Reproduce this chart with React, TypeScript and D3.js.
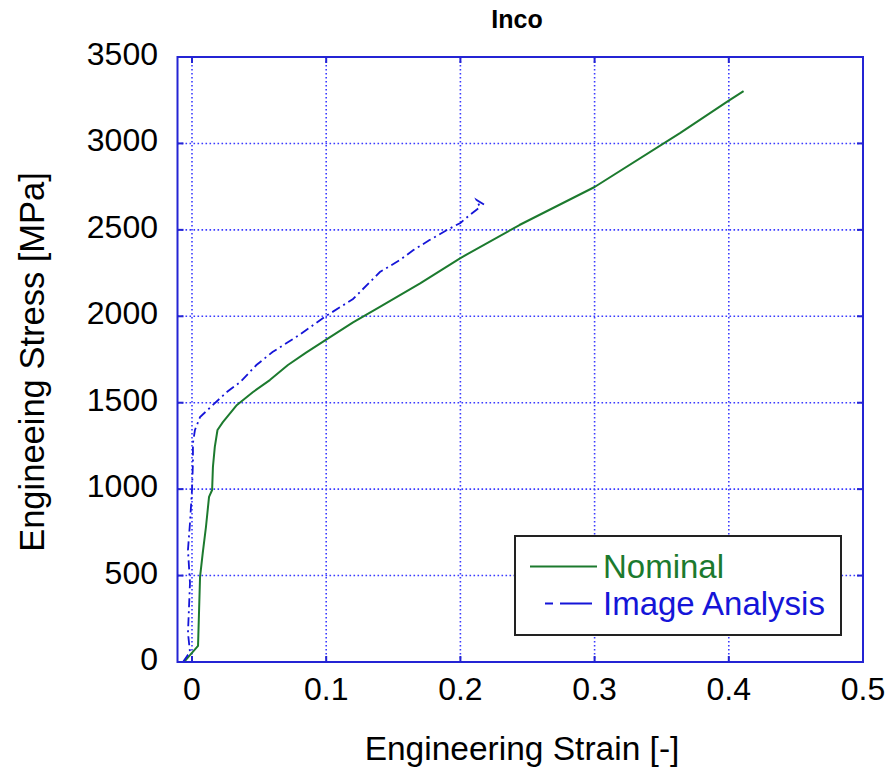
import React from "react";
import * as d3 from "d3";

const xTicks = [0, 0.1, 0.2, 0.3, 0.4, 0.5];
const yTicks = [0, 500, 1000, 1500, 2000, 2500, 3000, 3500];

const nominalStrain = [-0.006, -0.0015, 0.0045, 0.006, 0.008, 0.0104, 0.0127, 0.015, 0.0156, 0.017, 0.019, 0.023, 0.0335, 0.0455, 0.058, 0.0715, 0.085, 0.1, 0.12, 0.14, 0.17, 0.2, 0.244, 0.3, 0.3636, 0.3994, 0.411];
const nominalStress = [0, 40, 93, 492, 630, 781, 955, 995, 1128, 1244, 1342, 1388, 1487, 1562, 1631, 1718, 1790, 1865, 1965, 2054, 2190, 2337, 2528, 2748, 3060, 3245, 3303];

const imageStrain = [-0.0067, -0.0015, -0.003, -0.0015, -0.003, -0.0015, 0, 0.0007, 0.0007, 0.0022, 0.006, 0.0156, 0.026, 0.036, 0.048, 0.06, 0.08, 0.1, 0.12, 0.14, 0.155, 0.165, 0.177, 0.19, 0.2, 0.207, 0.2146, 0.212, 0.218];
const imageStress = [0, 58, 168, 457, 648, 804, 995, 1151, 1267, 1342, 1417, 1487, 1562, 1620, 1718, 1793, 1892, 2002, 2100, 2256, 2326, 2383, 2441, 2499, 2540, 2586, 2632, 2673, 2644];

const L = 177.5, R = 863, T = 57, B = 662;
const axisColor = "#2424d4";
const green = "#1c7a2e";
const blue = "#1515d8";
const font = "Liberation Sans, Arial, sans-serif";

export default function App() {
  const x = d3.scaleLinear().domain([-0.0108, 0.5]).range([L, R]);
  const y = d3.scaleLinear().domain([0, 3500]).range([B, T]);
  const line = d3.line<number>();
  const nomPts = nominalStrain.map((s, i) => [x(s), y(nominalStress[i])] as [number, number]);
  const imgPts = imageStrain.map((s, i) => [x(s), y(imageStress[i])] as [number, number]);
  return (
    <svg width={890} height={771} style={{ position: "absolute", left: 0, top: 0, background: "#fff" }}>
      <rect x={0} y={0} width={890} height={771} fill="#fff" />
      {xTicks.map((t) => (
        <line key={"gx" + t} x1={x(t)} x2={x(t)} y1={T} y2={B} stroke="#3a3aff" strokeWidth={1.6} strokeDasharray="1.6 2.4" />
      ))}
      {yTicks.map((t) => (
        <line key={"gy" + t} x1={L} x2={R} y1={y(t)} y2={y(t)} stroke="#3a3aff" strokeWidth={1.6} strokeDasharray="1.6 2.4" />
      ))}
      <path d={line(nomPts) || ""} fill="none" stroke={green} strokeWidth={2} strokeLinejoin="round" />
      <path d={line(imgPts) || ""} fill="none" stroke={blue} strokeWidth={1.8} strokeDasharray="9 4 2 4" />
      <rect x={L} y={T} width={R - L} height={B - T} fill="none" stroke={axisColor} strokeWidth={2} />
      {xTicks.map((t) => (
        <g key={"tx" + t}>
          <line x1={x(t)} x2={x(t)} y1={B} y2={B - 6} stroke={axisColor} strokeWidth={2} />
          <line x1={x(t)} x2={x(t)} y1={T} y2={T + 6} stroke={axisColor} strokeWidth={2} />
          <text x={x(t)} y={700} textAnchor="middle" fontFamily={font} fontSize={32} fill="#000">{String(t)}</text>
        </g>
      ))}
      {yTicks.map((t) => (
        <g key={"ty" + t}>
          <line x1={L} x2={L + 6} y1={y(t)} y2={y(t)} stroke={axisColor} strokeWidth={2} />
          <line x1={R} x2={R - 6} y1={y(t)} y2={y(t)} stroke={axisColor} strokeWidth={2} />
          <text x={158} y={y(t) + 8} textAnchor="end" fontFamily={font} fontSize={32} fill="#000">{String(t)}</text>
        </g>
      ))}
      <text x={517} y={28} textAnchor="middle" fontFamily={font} fontSize={25} fontWeight="bold" fill="#000">Inco</text>
      <text x={522} y={760} textAnchor="middle" fontFamily={font} fontSize={33.5} fill="#000">Engineering Strain [-]</text>
      <text transform={`translate(44,362) rotate(-90)`} textAnchor="middle" fontFamily={font} fontSize={34.5} fill="#000">Engineeing Stress [MPa]</text>
      <g>
        <rect x={515} y={536} width={326} height={99} fill="#fff" stroke="#222" strokeWidth={2} />
        <line x1={530} x2={597} y1={566.5} y2={566.5} stroke={green} strokeWidth={2} />
        <text x={603} y={578} fontFamily={font} fontSize={33} fill={green}>Nominal</text>
        <line x1={545} x2={592} y1={603.5} y2={603.5} stroke={blue} strokeWidth={2} strokeDasharray="8 7 40" />
        <text x={603} y={615} fontFamily={font} fontSize={33} fill={blue}>Image Analysis</text>
      </g>
    </svg>
  );
}
